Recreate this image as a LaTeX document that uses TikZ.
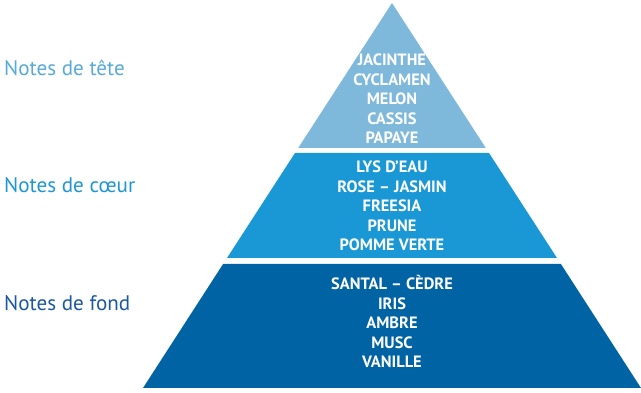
\documentclass[tikz,border=0pt]{standalone}
\usepackage{fontspec}
\setmainfont{PT Sans}
\usepackage{tikz}
\usepackage{tkz-euclide}
\usepackage{xcolor}

\definecolor{teteblue}{RGB}{126,184,219}
\definecolor{coeurblue}{RGB}{25,152,213}
\definecolor{fondblue}{RGB}{0,99,164}
\definecolor{tetetext}{RGB}{88,170,214}
\definecolor{coeurtext}{RGB}{30,150,212}
\definecolor{fondtext}{RGB}{28,88,158}

\tikzset{
  ingredients/.style={align=center,text=white,inner sep=0pt,
    font=\bfseries\fontsize{14}{16.6}\selectfont},
  notelabel/.style={anchor=west,inner sep=0pt,
    font=\fontsize{18}{20}\selectfont}
}

\begin{document}
\begin{tikzpicture}
    \useasboundingbox (0,0) rectangle (19.23,11.79);
    \tkzDefPoints{11.76/11.70/S,8.946/7.35/A,14.574/7.35/B,
      8.85/7.20/C,14.67/7.20/D,6.81/4.05/E,16.71/4.05/F,
      6.693/3.87/G,16.827/3.87/H,4.29/0.15/I,19.23/0.15/J}
    \tkzFillPolygon[fill=teteblue,draw=none](S,A,B)
    \tkzFillPolygon[fill=coeurblue,draw=none](C,E,F,D)
    \tkzFillPolygon[fill=fondblue,draw=none](G,I,J,H)
    % \tkzLabelPoints(S,A,B,C,D,E,F,G,H,I,J)
    \node[ingredients] (tete) at (11.76,8.82)
      {JACINTHE\\CYCLAMEN\\MELON\\CASSIS\\PAPAYE};
    \node[ingredients] (coeur) at (11.76,5.61)
      {LYS D’EAU\\ROSE – JASMIN\\FREESIA\\PRUNE\\POMME VERTE};
    \node[ingredients] (fond) at (11.76,2.14)
      {SANTAL – CÈDRE\\IRIS\\AMBRE\\MUSC\\VANILLE};
    \node[notelabel,text=tetetext] (ltete) at (0.12,9.75) {Notes de tête};
    \node[notelabel,text=coeurtext] (lcoeur) at (0.12,6.24) {Notes de cœur};
    \node[notelabel,text=fondtext] (lfond) at (0.12,2.70) {Notes de fond};
\end{tikzpicture}
\end{document}
